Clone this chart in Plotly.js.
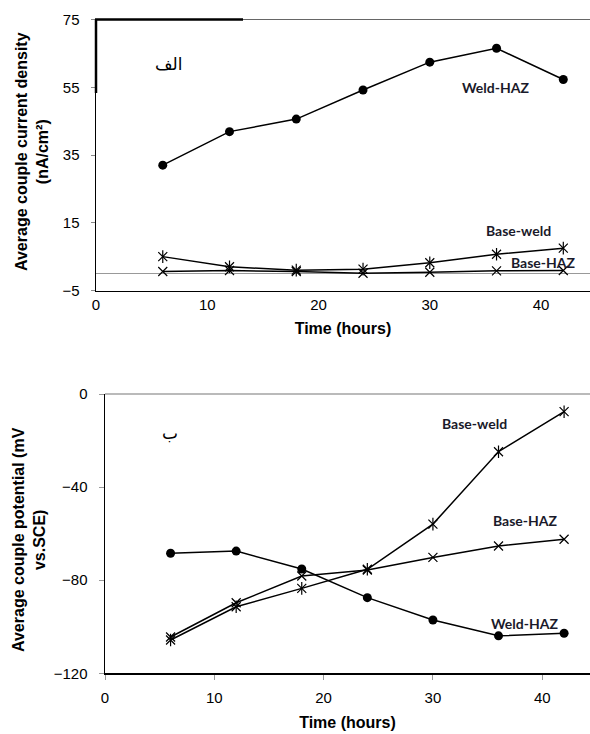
<!DOCTYPE html>
<html>
<head>
<meta charset="utf-8">
<script src="https://cdn.plot.ly/plotly-3.0.1.min.js"></script>
<style>html,body{margin:0;padding:0;background:#fff;}#chart{width:590px;height:734px;}</style>
</head>
<body>
<div id="chart"></div>
<script>
// ---- data ----
var timeHours = [6, 12, 18, 24, 30, 36, 42];

// (a) average couple current density, nA/cm2
var currentWeldHAZ = [32.0, 41.9, 45.6, 54.2, 62.4, 66.5, 57.3];
var currentBaseWeld = [5.0, 2.0, 1.0, 1.3, 3.2, 5.7, 7.5];
var currentBaseHAZ = [0.6, 0.9, 0.6, 0.1, 0.4, 0.8, 0.9];

// (b) average couple potential, mV vs. SCE
var potentialWeldHAZ = [-68.4, -67.5, -75.2, -87.5, -97.1, -103.9, -102.8];
var potentialBaseWeld = [-105.7, -91.4, -83.5, -75.3, -55.9, -24.8, -7.6];
var potentialBaseHAZ = [-104.4, -89.7, -78.2, -75.6, -70.2, -65.3, -62.4];

var xTicks = [0, 10, 20, 30, 40];
var yTicksTop = [-5, 15, 35, 55, 75];
var yTicksBottom = [-120, -80, -40, 0];

// ---- helpers ----
var W = 590, H = 734;
function px(x) { return x / W; }
function py(y) { return 1 - y / H; }

function circleTrace(x, y, xa, ya) {
  return {x: x, y: y, xaxis: xa, yaxis: ya, type: 'scatter', mode: 'lines+markers',
    line: {color: '#000', width: 1.5},
    marker: {symbol: 'circle', size: 9, color: '#000'}, hoverinfo: 'skip'};
}
function crossTrace(x, y, xa, ya) {
  return {x: x, y: y, xaxis: xa, yaxis: ya, type: 'scatter', mode: 'lines+markers',
    line: {color: '#000', width: 1.5},
    marker: {symbol: 'x-thin-open', size: 9, color: '#000', line: {color: '#000', width: 1.2}}, hoverinfo: 'skip'};
}
function starBar(x, y, xa, ya) {
  return {x: x, y: y, xaxis: xa, yaxis: ya, type: 'scatter', mode: 'markers',
    marker: {symbol: 'line-ns-open', size: 9, color: '#000', line: {color: '#000', width: 1.2}}, hoverinfo: 'skip'};
}

var data = [
  circleTrace(timeHours, currentWeldHAZ, 'x', 'y'),
  crossTrace(timeHours, currentBaseWeld, 'x', 'y'),
  starBar(timeHours, currentBaseWeld, 'x', 'y'),
  crossTrace(timeHours, currentBaseHAZ, 'x', 'y'),
  circleTrace(timeHours, potentialWeldHAZ, 'x2', 'y2'),
  crossTrace(timeHours, potentialBaseWeld, 'x2', 'y2'),
  starBar(timeHours, potentialBaseWeld, 'x2', 'y2'),
  crossTrace(timeHours, potentialBaseHAZ, 'x2', 'y2')
];

var tickFont = {family: 'Liberation Sans, Arial, sans-serif', size: 15, color: '#000'};
var titleFont = {family: 'Liberation Sans, Arial, sans-serif', size: 16, color: '#000', weight: 'bold'};
var labelFont = {family: 'Lato, sans-serif', size: 14, color: '#1a1a2a', weight: 'bold'};

var layout = {
  width: W, height: H,
  margin: {l: 0, r: 0, t: 0, b: 0},
  paper_bgcolor: '#fff', plot_bgcolor: '#fff',
  showlegend: false,
  xaxis: {domain: [px(96), 1], range: [0, 44.4], tickvals: xTicks, ticks: '',
    showline: true, linecolor: '#000', linewidth: 1.5, showgrid: false, zeroline: false,
    tickfont: tickFont, ticklabelstandoff: 0,
    title: {text: 'Time (hours)', font: titleFont, standoff: 11}, anchor: 'y'},
  yaxis: {domain: [py(290.5), py(19.5)], range: [-5, 75], tickvals: yTicksTop, ticks: 'outside',
    ticklen: 4, tickcolor: '#888', showline: true, linecolor: '#000', linewidth: 1.5,
    showgrid: false, zeroline: true, zerolinecolor: '#999', zerolinewidth: 1,
    tickfont: tickFont, ticklabelstandoff: 8, anchor: 'x'},
  xaxis2: {domain: [px(105), 1], range: [0, 44.37], tickvals: xTicks, ticks: 'outside',
    ticklen: 5, tickcolor: '#999', showline: true, linecolor: '#000', linewidth: 2, showgrid: false, zeroline: false,
    tickfont: tickFont, ticklabelstandoff: 5,
    title: {text: 'Time (hours)', font: titleFont, standoff: 12}, anchor: 'y2'},
  yaxis2: {domain: [py(673.3), py(394)], range: [-120, 0], tickvals: yTicksBottom, ticks: 'outside',
    ticklen: 5, tickcolor: '#999', showline: true, linecolor: '#000', linewidth: 1.5,
    showgrid: false, zeroline: false, tickfont: tickFont, ticklabelstandoff: 8, anchor: 'x2'},
  shapes: [
    // top frame lines
    {type: 'line', xref: 'paper', yref: 'paper', x0: px(96), x1: 1, y0: py(19.5), y1: py(19.5), line: {color: '#666', width: 1.2}},
    {type: 'line', xref: 'paper', yref: 'paper', x0: px(95), x1: px(243), y0: py(19.5), y1: py(19.5), line: {color: '#000', width: 2.5}},
    {type: 'line', xref: 'paper', yref: 'paper', x0: px(96), x1: px(96), y0: py(19.5), y1: py(93), line: {color: '#000', width: 2.5}},
    {type: 'line', xref: 'paper', yref: 'paper', x0: px(105), x1: 1, y0: py(394), y1: py(394), line: {color: '#777', width: 1.2}}
  ],
  annotations: [
    {xref: 'paper', yref: 'paper', x: px(32), y: py(152), text: 'Average couple current density<br>(nA/cm²)',
      textangle: -90, showarrow: false, font: titleFont, xanchor: 'center', yanchor: 'middle'},
    {xref: 'paper', yref: 'paper', x: px(29), y: py(540), text: 'Average couple potential (mV<br>vs.SCE)',
      textangle: -90, showarrow: false, font: titleFont, xanchor: 'center', yanchor: 'middle'},
    {xref: 'paper', yref: 'paper', x: px(153), y: py(52), text: 'الف', showarrow: false,
      font: {family: 'DejaVu Sans, sans-serif', size: 17, color: '#000'}},
    {xref: 'paper', yref: 'paper', x: px(160), y: py(433), text: 'ب', showarrow: false,
      font: {family: 'DejaVu Sans, sans-serif', size: 17, color: '#000'}},
    {xref: 'x', yref: 'y', x: 35.9, y: 54.8, text: 'Weld-HAZ', showarrow: false, font: labelFont},
    {xref: 'x', yref: 'y', x: 38.0, y: 12.6, text: 'Base-weld', showarrow: false, font: labelFont},
    {xref: 'x', yref: 'y', x: 40.2, y: 3.4, text: 'Base-HAZ', showarrow: false, font: labelFont},
    {xref: 'x2', yref: 'y2', x: 33.8, y: -12.6, text: 'Base-weld', showarrow: false, font: labelFont},
    {xref: 'x2', yref: 'y2', x: 38.5, y: -54.4, text: 'Base-HAZ', showarrow: false, font: labelFont},
    {xref: 'x2', yref: 'y2', x: 38.4, y: -98.4, text: 'Weld-HAZ', showarrow: false, font: labelFont}
  ]
};

Plotly.newPlot('chart', data, layout, {displayModeBar: false, staticPlot: true});
</script>
</body>
</html>
